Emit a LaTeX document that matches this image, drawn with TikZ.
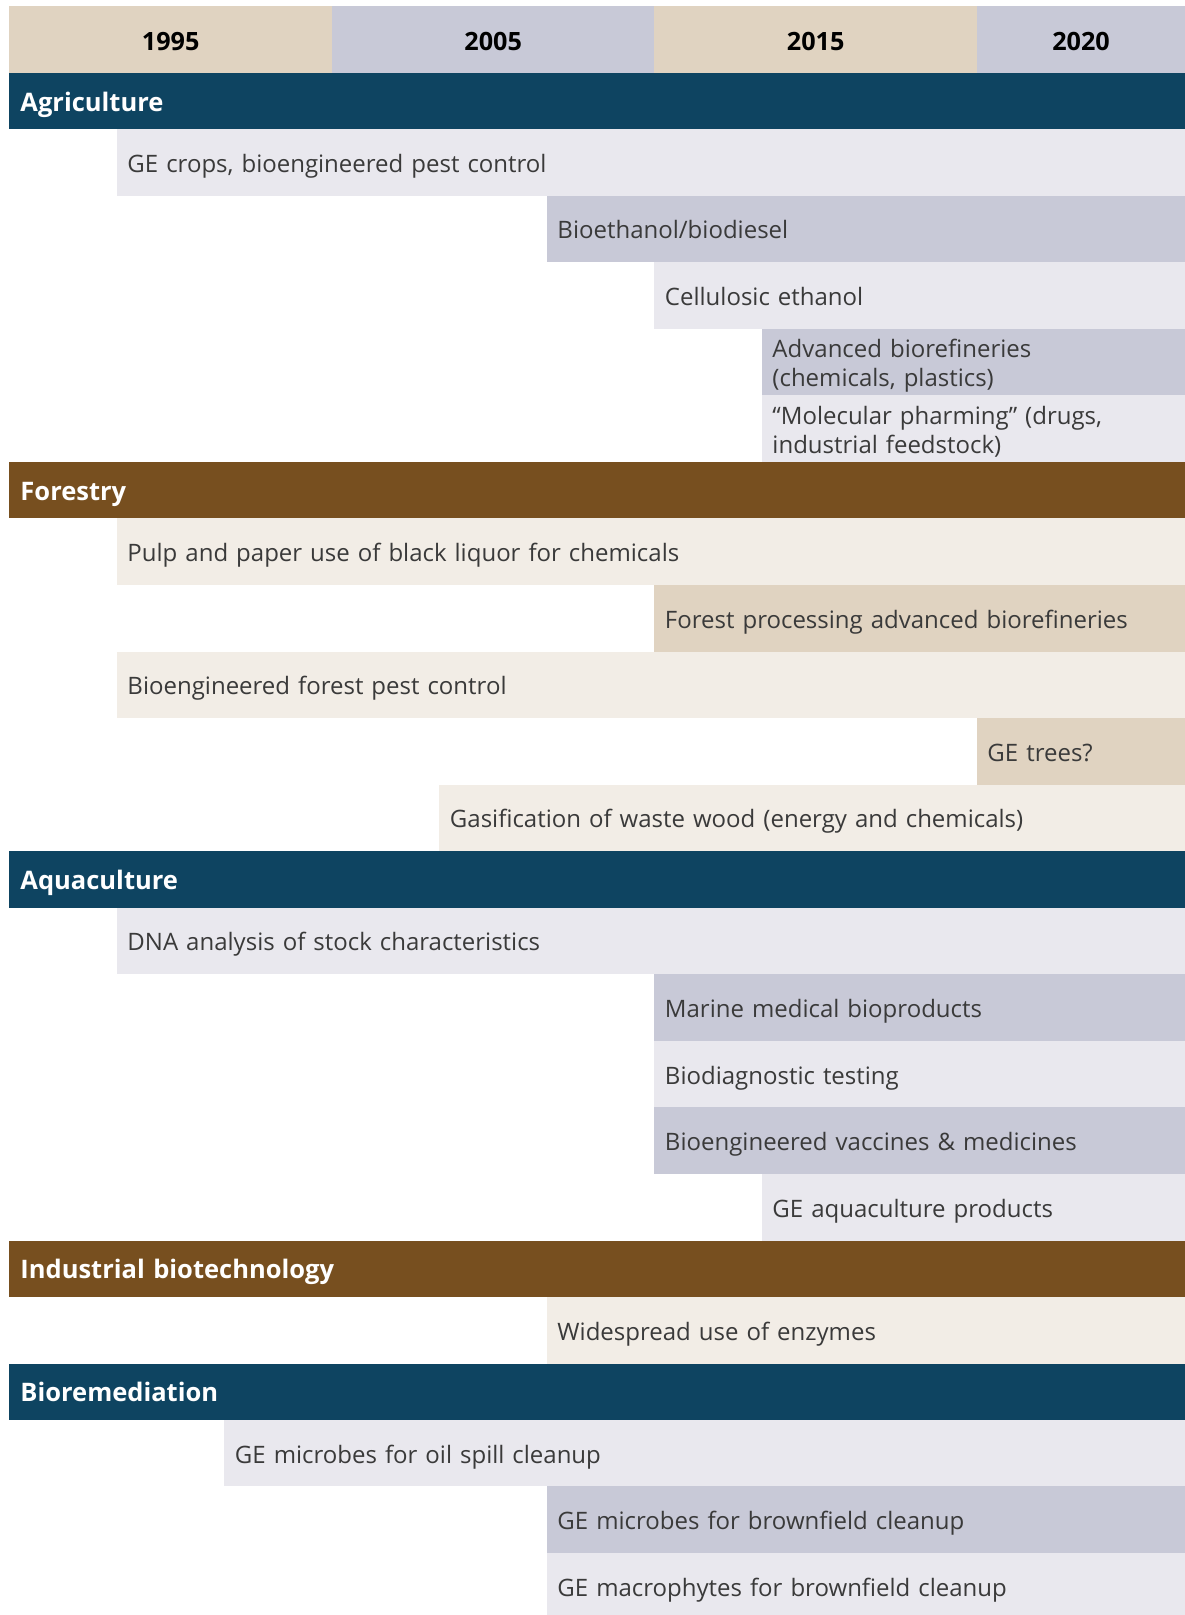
\documentclass[tikz,border=0pt]{standalone}
\usepackage{fontspec}
\setmainfont{Open Sans}
\definecolor{navy}{HTML}{0E4461}
\definecolor{brown}{HTML}{774F1F}
\definecolor{tanM}{HTML}{E0D3C1}
\definecolor{lavM}{HTML}{C8C9D7}
\definecolor{lavL}{HTML}{E9E8EE}
\definecolor{cream}{HTML}{F2EDE6}
\definecolor{txt}{HTML}{3A3A3A}
\newcommand{\rowtop}{\rule{0pt}{26.8pt}}
\newcommand{\rowbot}{\rule[-7pt]{0pt}{7pt}}
\newcommand{\bandstrut}{\rule[-7pt]{0pt}{34.4pt}}
\newcommand{\yearstrut}{\rule[-0.3pt]{0pt}{22pt}}
\tikzset{
  rowbar/.style={rectangle, anchor=north west, inner xsep=10.5pt, inner ysep=0pt,
    minimum height=66.6pt, align=left, text=txt,
    font=\fontsize{24}{29}\selectfont,
    execute at begin node=\rowtop, execute at end node=\rowbot},
  band/.style={rectangle, anchor=north west, inner xsep=11pt, inner ysep=0pt,
    minimum height=56.3pt, text width=1153.73pt, align=left, text=white,
    font=\bfseries\fontsize{25.5}{29}\selectfont,
    execute at begin node=\bandstrut},
  yearcell/.style={rectangle, anchor=north west, inner sep=0pt,
    minimum height=66.3pt, text=black, font=\bfseries\fontsize{25.2}{29}\selectfont,
    execute at begin node=\yearstrut}
}
\newcommand{\trow}[5]{%
  \pgfmathsetmacro{\xl}{9.27+107.5*#2}%
  \pgfmathsetmacro{\tw}{1185-\xl-21}%
  \node[rowbar, fill=#4, text width=\tw pt] (#1) at (\xl,#3) {#5};%
}
\begin{document}
\begin{tikzpicture}[x=1pt,y=-1pt]
\clip (0,0) rectangle (1185,1615);
\fill[white] (0,0) rectangle (1185,1615);
% header
\node[yearcell, fill=tanM, minimum width=322.5pt] (y1995) at (9.27,6.2) {1995};
\node[yearcell, fill=lavM, minimum width=322.5pt] (y2005) at (331.77,6.2) {2005};
\node[yearcell, fill=tanM, minimum width=322.5pt] (y2015) at (654.27,6.2) {2015};
\node[yearcell, fill=lavM, minimum width=208.23pt] (y2020) at (976.77,6.2) {2020};
% Agriculture
\node[band, fill=navy] (agri) at (9.27,72.5) {Agriculture};
\trow{a1}{1}{128.8}{lavL}{GE crops, bioengineered pest control}
\trow{a2}{5}{195.4}{lavM}{Bioethanol/biodiesel}
\trow{a3}{6}{262.0}{lavL}{Cellulosic ethanol}
\trow{a4}{7}{328.6}{lavM}{Advanced biorefineries\\(chemicals, plastics)}
\trow{a5}{7}{395.2}{lavL}{“Molecular pharming” (drugs,\\industrial feedstock)}
% Forestry
\node[band, fill=brown] (fore) at (9.27,461.8) {Forestry};
\trow{f1}{1}{518.1}{cream}{Pulp and paper use of black liquor for chemicals}
\trow{f2}{6}{584.7}{tanM}{Forest processing advanced biorefineries}
\trow{f3}{1}{651.3}{cream}{Bioengineered forest pest control}
\trow{f4}{9}{717.9}{tanM}{GE trees?}
\trow{f5}{4}{784.5}{cream}{Gasification of waste wood (energy and chemicals)}
% Aquaculture
\node[band, fill=navy] (aqua) at (9.27,851.1) {Aquaculture};
\trow{q1}{1}{907.4}{lavL}{DNA analysis of stock characteristics}
\trow{q2}{6}{974.0}{lavM}{Marine medical bioproducts}
\trow{q3}{6}{1040.6}{lavL}{Biodiagnostic testing}
\trow{q4}{6}{1107.2}{lavM}{Bioengineered vaccines \& medicines}
\trow{q5}{7}{1173.8}{lavL}{GE aquaculture products}
% Industrial
\node[band, fill=brown] (indu) at (9.27,1240.4) {Industrial biotechnology};
\trow{i1}{5}{1296.7}{cream}{Widespread use of enzymes}
% Bioremediation
\node[band, fill=navy] (biorem) at (9.27,1363.3) {Bioremediation};
\trow{b1}{2}{1419.6}{lavL}{GE microbes for oil spill cleanup}
\trow{b2}{5}{1486.2}{lavM}{GE microbes for brownfield cleanup}
\trow{b3}{5}{1552.8}{lavL}{GE macrophytes for brownfield cleanup}
\end{tikzpicture}
\end{document}
